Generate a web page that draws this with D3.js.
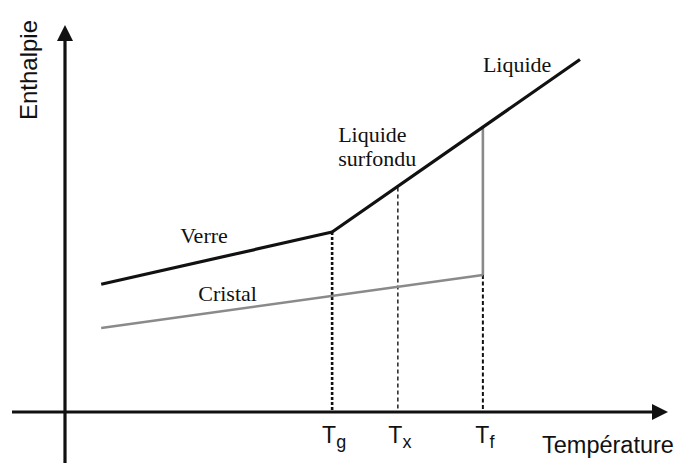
<!DOCTYPE html>
<html>
<head>
<meta charset="utf-8">
<script src="https://cdn.jsdelivr.net/npm/d3@7"></script>
<style>
  html, body { margin: 0; padding: 0; background: #fff; }
  svg { display: block; }
</style>
</head>
<body>
<svg id="chart" width="691" height="463"></svg>
<script>
// Enthalpy vs temperature: glass, supercooled liquid, liquid and crystal branches
const verre   = [{T: 6, H: 33}, {T: 44.3, H: 46.5}];
const liquide = [{T: 44.3, H: 46.5}, {T: 69.3, H: 73.6}, {T: 85.4, H: 91.1}];
const cristal = [{T: 6, H: 21.7}, {T: 69.3, H: 35.4}];
const fusion  = [{T: 69.3, H: 35.4}, {T: 69.3, H: 73.6}];

// Characteristic temperatures (vitreous transition, crystallisation, melting)
const tickNames = ["g", "x", "f"];
const tickTemps = [44.3, 55.2, 69.3];
const tickTopH  = [46.5, 58.0, 35.4];

const svg = d3.select("#chart");
const x = d3.scaleLinear().domain([0, 100]).range([65, 668]);
const y = d3.scaleLinear().domain([0, 100]).range([412, 25]);

const line = d3.line().x(d => x(d.T)).y(d => y(d.H));
const ink = "#111";
const grey = "#8a8a8a";

// Axes with arrowheads
svg.append("line")
  .attr("x1", 12).attr("x2", x(100) - 12)
  .attr("y1", y(0)).attr("y2", y(0))
  .attr("stroke", ink).attr("stroke-width", 3.2);
svg.append("path")
  .attr("d", `M${x(100)},${y(0)} L${x(100) - 16},${y(0) - 8} L${x(100) - 16},${y(0) + 8} Z`)
  .attr("fill", ink);
svg.append("line")
  .attr("x1", x(0)).attr("x2", x(0))
  .attr("y1", 463).attr("y2", y(100) + 12)
  .attr("stroke", ink).attr("stroke-width", 3.2);
svg.append("path")
  .attr("d", `M${x(0)},${y(100)} L${x(0) - 8},${y(100) + 16} L${x(0) + 8},${y(100) + 16} Z`)
  .attr("fill", ink);

// Dotted guides from each characteristic temperature to the curves
const dashStyles = [
  {w: 2.6, dash: "3,2"},
  {w: 1.4, dash: "4,3"},
  {w: 2.0, dash: "4,2.5"}
];
tickTemps.forEach((t, i) => {
  svg.append("line")
    .attr("x1", x(t)).attr("x2", x(t))
    .attr("y1", y(tickTopH[i])).attr("y2", y(0))
    .attr("stroke", ink)
    .attr("stroke-width", dashStyles[i].w)
    .attr("stroke-dasharray", dashStyles[i].dash);
});

// Curves
svg.append("path").datum(cristal).attr("d", line)
  .attr("fill", "none").attr("stroke", grey).attr("stroke-width", 2.6);
svg.append("path").datum(fusion).attr("d", line)
  .attr("fill", "none").attr("stroke", grey).attr("stroke-width", 2.6);
svg.append("path").datum(verre).attr("d", line)
  .attr("fill", "none").attr("stroke", ink).attr("stroke-width", 3.2)
  .attr("stroke-linejoin", "round");
svg.append("path").datum(liquide).attr("d", line)
  .attr("fill", "none").attr("stroke", ink).attr("stroke-width", 3.2)
  .attr("stroke-linejoin", "round");

// Curve labels
const serif = "'Liberation Serif', 'DejaVu Serif', serif";
function label(txt, t, h) {
  svg.append("text")
    .attr("x", x(t)).attr("y", y(h))
    .attr("font-family", serif).attr("font-size", 22)
    .attr("fill", ink).text(txt);
}
label("Verre", 19.1, 43.7);
label("Cristal", 22.1, 28.6);
label("Liquide", 69.3, 87.9);
label("Liquide", 45.3, 69.8);
label("surfondu", 45.3, 63.6);

// Tick labels T_g, T_x, T_f
const sans = "Arial, 'Liberation Sans', sans-serif";
tickTemps.forEach((t, i) => {
  const tx = svg.append("text")
    .attr("x", x(t) + 2).attr("y", 443)
    .attr("text-anchor", "middle")
    .attr("font-family", sans).attr("font-size", 23)
    .attr("fill", ink);
  tx.append("tspan").text("T");
  tx.append("tspan").attr("dy", 5).attr("font-size", 18).text(tickNames[i]);
});

// Axis titles
svg.append("text")
  .attr("x", 542).attr("y", 453)
  .attr("font-family", sans).attr("font-size", 23.5)
  .attr("fill", ink).text("Température");
svg.append("text")
  .attr("transform", "translate(37,70) rotate(-90)")
  .attr("text-anchor", "middle")
  .attr("font-family", sans).attr("font-size", 24)
  .attr("fill", ink).text("Enthalpie");
</script>
</body>
</html>
